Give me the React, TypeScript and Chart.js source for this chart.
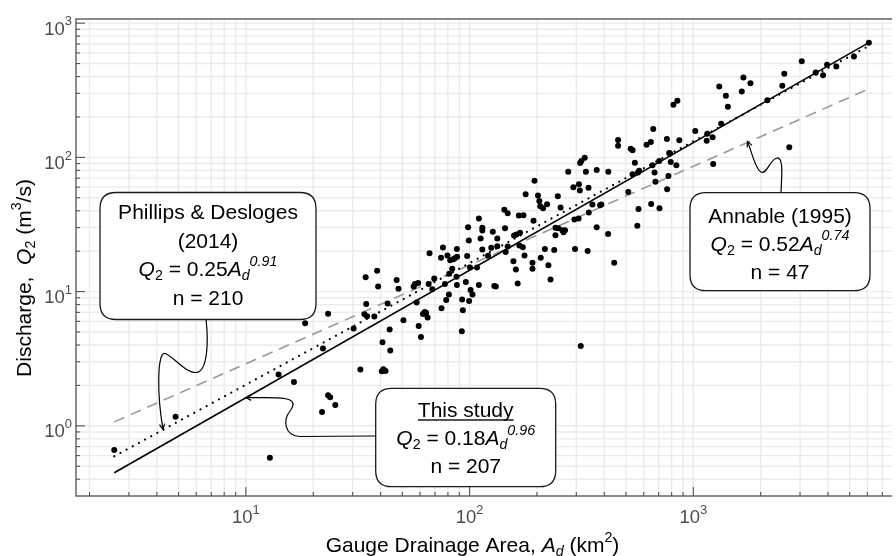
import React, { useEffect, useRef } from "react";
import { Chart, registerables } from "chart.js";

Chart.register(...registerables);

// ---- data (gauge drainage area km², 2-yr discharge m³/s) ----
const drainageArea: number[] = [
  2.58, 4.85, 12.8, 14.0, 16.4, 15.5, 18.6, 18.4, 23.3, 22.1,
  23.3, 23.8, 25.1, 21.9, 30.3, 32.5, 34.3, 38.6, 39.0, 34.5,
  33.9, 34.8, 37.5, 43.0, 43.9, 40.8, 44.2, 41.2, 40.5, 42.1,
  47.2, 48.1, 50.6, 56.2, 57.0, 58.9, 58.0, 59.2, 60.6, 61.9,
  63.0, 63.9, 64.9, 65.6, 66.2, 68.1, 69.5, 74.9, 74.5, 76.0,
  77.6, 78.6, 80.8, 79.6, 81.1, 81.9, 84.7, 85.9, 83.6, 87.7,
  87.9, 87.7, 87.4, 92.6, 93.3, 92.3, 96.2, 97.5, 98.5, 99.2,
  101, 103, 100.4, 99.5, 108, 110, 110, 112, 114, 114,
  114, 121, 125, 127, 129, 131, 133, 133, 144, 143,
  148, 145, 148, 157, 161, 158, 162, 168, 164, 166,
  174, 167, 173, 176, 178, 191, 191, 193, 195, 202,
  205, 207, 213, 222, 208, 217, 225, 230, 239, 242,
  242, 249, 248, 255, 260, 263, 267, 291, 308, 311,
  294, 307, 296, 314, 337, 276, 312, 316, 327, 331,
  340, 370, 417, 354, 383, 388, 341, 370, 416, 443,
  569, 648, 706, 562, 461, 461, 525, 535, 618, 646,
  662, 762, 866, 780, 788, 704, 657, 793, 840, 548,
  573, 566, 535, 671, 774, 677, 764, 512, 815, 849,
  1020, 1154, 1148, 1220, 1227, 1332, 1306, 1398, 1427, 1647,
  1675, 1800, 2143, 2499, 2551, 2685, 3054, 3524, 3802, 3963,
  4357, 5224, 6091,
];
const discharge: number[] = [
  0.66, 1.17, 0.578, 2.41, 2.12, 6.69, 8.0, 5.8, 6.85, 3.76,
  1.69, 1.63, 1.43, 1.27, 5.3, 2.63, 12.8, 14.3, 10.9, 8.07,
  6.77, 6.54, 6.51, 8.17, 5.21, 4.19, 3.64, 2.64, 2.55, 2.56,
  12.2, 10.5, 6.11, 10.9, 11.4, 11.6, 8.31, 5.54, 4.59, 6.8,
  7.04, 6.97, 6.4, 11.4, 19.3, 10.4, 12.5, 7.5, 17.9, 21.3,
  11.4, 8.65, 9.53, 18.6, 13.6, 17.1, 17.4, 17.7, 14.8, 20.8,
  18.2, 11.2, 12.9, 8.75, 7.25, 5.06, 11.8, 18.4, 30.2, 24.0,
  10.3, 9.53, 15.1, 8.5, 15.1, 11.2, 35.0, 24.9, 29.9, 28.5,
  20.6, 18.5, 21.2, 27.9, 11.0, 10.9, 24.9, 21.8, 29.7, 40.8,
  38.3, 19.7, 21.7, 16.8, 14.6, 26.2, 26.6, 27.4, 11.5, 36.9,
  37.1, 22.1, 21.4, 18.6, 53.1, 16.4, 14.8, 33.7, 67.1, 51.9,
  47.4, 43.2, 41.8, 44.7, 17.9, 20.8, 15.7, 12.3, 20.4, 26.3,
  29.9, 29.6, 51.3, 42.3, 28.7, 27.7, 28.7, 59.8, 63.0, 56.6,
  34.4, 35.0, 20.8, 3.94, 20.1, 78.3, 90.8, 94.0, 99.5, 78.3,
  59.5, 80.6, 78.3, 44.5, 44.0, 44.5, 38.8, 30.2, 26.9, 16.4,
  41.3, 45.0, 41.8, 30.9, 135, 122, 116, 113, 124, 130,
  163, 137, 134, 108, 107, 94.0, 87.2, 92.4, 87.2, 91.3,
  79.6, 77.3, 74.8, 77.3, 72.7, 65.9, 57.8, 55.3, 247, 264,
  157, 150, 133, 141, 89.3, 178, 337, 288, 238, 310,
  393, 357, 267, 341, 419, 119, 521, 429, 410, 489,
  475, 564, 716,
];

// fitted lines: endpoints over the data range (area) and discharge at those ends
const fitAreaRange: number[] = [2.58, 6091];
const thisStudyFit: number[] = [0.447, 716];
const phillipsFit: number[] = [0.593, 677];
const annableFit: number[] = [1.07, 324];

// axes
const xRange: number[] = [1.74, 7730];
const yRange: number[] = [0.306, 1074];
const xTickExponents: string[] = ["1", "2", "3"];
const yTickExponents: string[] = ["0", "1", "2", "3"];

const FONT = '"Liberation Sans", Arial, Helvetica, sans-serif';

type Seg = { t: string; it?: boolean; sub?: boolean; sup?: boolean };

function fontFor(seg: Seg, size: number, scale: number) {
  const s = seg.sub || seg.sup ? size * scale : size;
  return `${seg.it ? "italic " : ""}${s}px ${FONT}`;
}
function segsWidth(ctx: CanvasRenderingContext2D, segs: Seg[], size: number, scale: number) {
  let w = 0;
  for (const s of segs) {
    ctx.font = fontFor(s, size, scale);
    w += ctx.measureText(s.t).width;
  }
  return w;
}
function drawSegs(
  ctx: CanvasRenderingContext2D,
  segs: Seg[],
  x: number,
  y: number,
  size: number,
  align: "left" | "center" | "right",
  scale = 0.68,
  supShift = 0.48,
  subShift = 0.2
) {
  const w = segsWidth(ctx, segs, size, scale);
  let cx = align === "center" ? x - w / 2 : align === "right" ? x - w : x;
  const start = cx;
  ctx.textAlign = "left";
  ctx.textBaseline = "alphabetic";
  for (const s of segs) {
    ctx.font = fontFor(s, size, scale);
    const dy = s.sup ? -size * supShift : s.sub ? size * subShift : 0;
    ctx.fillText(s.t, cx, y + dy);
    cx += ctx.measureText(s.t).width;
  }
  return { left: start, right: cx };
}

function gridValues(min: number, max: number) {
  const out: { v: number; major: boolean }[] = [];
  const e0 = Math.floor(Math.log10(min));
  const e1 = Math.ceil(Math.log10(max));
  for (let e = e0; e <= e1; e++) {
    for (let m = 1; m <= 9; m++) {
      const v = m * Math.pow(10, e);
      if (v >= min && v <= max) out.push({ v, major: m === 1 });
    }
  }
  return out;
}

type Callout = {
  box: number[]; // left, top, right, bottom (px)
  lines: Seg[][];
  baselines: number[];
  underlineFirst?: boolean;
  start: number[];
  segs: number[][][]; // cubic segments [c1, c2, end]; last end replaced by tip
  tip: { x: number; y: number }; // data coordinates
};

const callouts: Callout[] = [
  {
    box: [100, 192.5, 316, 319.5],
    lines: [
      [{ t: "Phillips & Desloges" }],
      [{ t: "(2014)" }],
      [
        { t: "Q", it: true },
        { t: "2", sub: true },
        { t: " = 0.25" },
        { t: "A", it: true },
        { t: "d", it: true, sub: true },
        { t: "0.91", it: true, sup: true },
      ],
      [{ t: "n = 210" }],
    ],
    baselines: [219, 247.5, 276, 304.5],
    start: [206, 319.5],
    segs: [
      [[208.5, 340], [208, 372], [196, 372.5]],
      [[185, 373], [172, 355], [165, 353.5]],
      [[157, 352], [157, 395], [0, 0]],
    ],
    tip: { x: 4.26, y: 0.94 },
  },
  {
    box: [690, 192.7, 870, 290.7],
    lines: [
      [{ t: "Annable (1995)" }],
      [
        { t: "Q", it: true },
        { t: "2", sub: true },
        { t: " = 0.52" },
        { t: "A", it: true },
        { t: "d", it: true, sub: true },
        { t: "0.74", it: true, sup: true },
      ],
      [{ t: "n = 47" }],
    ],
    baselines: [222.5, 250.5, 279],
    start: [781, 192.7],
    segs: [
      [[781.5, 178], [784, 157], [777, 158]],
      [[770, 159], [767, 175], [761, 172]],
      [[755, 169], [752, 152], [0, 0]],
    ],
    tip: { x: 1746, y: 131.5 },
  },
  {
    box: [375.7, 388.3, 555.7, 486.7],
    lines: [
      [{ t: "This study" }],
      [
        { t: "Q", it: true },
        { t: "2", sub: true },
        { t: " = 0.18" },
        { t: "A", it: true },
        { t: "d", it: true, sub: true },
        { t: "0.96", it: true, sup: true },
      ],
      [{ t: "n = 207" }],
    ],
    baselines: [417, 445, 473],
    underlineFirst: true,
    start: [375.7, 436],
    segs: [
      [[340, 436], [320, 436.5], [300, 436.5]],
      [[284, 436], [283, 420], [290, 411]],
      [[297, 402], [292, 398], [276, 397.8]],
      [[265, 397.5], [255, 398], [0, 0]],
    ],
    tip: { x: 10, y: 1.626 },
  },
];

function roundRectPath(ctx: CanvasRenderingContext2D, l: number, t: number, r: number, b: number, rad: number) {
  ctx.beginPath();
  ctx.moveTo(l + rad, t);
  ctx.lineTo(r - rad, t);
  ctx.quadraticCurveTo(r, t, r, t + rad);
  ctx.lineTo(r, b - rad);
  ctx.quadraticCurveTo(r, b, r - rad, b);
  ctx.lineTo(l + rad, b);
  ctx.quadraticCurveTo(l, b, l, b - rad);
  ctx.lineTo(l, t + rad);
  ctx.quadraticCurveTo(l, t, l + rad, t);
  ctx.closePath();
}

const decorPlugin = {
  id: "decor",
  beforeDatasetsDraw(chart: any) {
    const { ctx, chartArea: a, scales } = chart;
    const x = scales.x;
    const y = scales.y;
    ctx.save();
    ctx.strokeStyle = "#ebebeb";
    ctx.lineWidth = 1.4;
    for (const g of gridValues(xRange[0], xRange[1])) {
      const px = x.getPixelForValue(g.v);
      ctx.beginPath();
      ctx.moveTo(px, a.top);
      ctx.lineTo(px, a.bottom);
      ctx.stroke();
    }
    for (const g of gridValues(yRange[0], yRange[1])) {
      const py = y.getPixelForValue(g.v);
      ctx.beginPath();
      ctx.moveTo(a.left, py);
      ctx.lineTo(a.right, py);
      ctx.stroke();
    }
    ctx.restore();
  },
  afterDraw(chart: any) {
    const { ctx, chartArea: a, scales } = chart;
    const x = scales.x;
    const y = scales.y;
    ctx.save();

    // axis borders (left, bottom, top)
    ctx.strokeStyle = "#666";
    ctx.lineWidth = 1.5;
    ctx.beginPath();
    ctx.moveTo(a.right, a.top);
    ctx.lineTo(a.left, a.top);
    ctx.lineTo(a.left, a.bottom);
    ctx.lineTo(a.right, a.bottom);
    ctx.stroke();

    // tick marks (inside)
    ctx.strokeStyle = "#555";
    ctx.lineWidth = 1.1;
    for (const g of gridValues(xRange[0], xRange[1])) {
      const px = x.getPixelForValue(g.v);
      ctx.beginPath();
      ctx.moveTo(px, a.bottom);
      ctx.lineTo(px, a.bottom - (g.major ? 9 : 4));
      ctx.stroke();
    }
    for (const g of gridValues(yRange[0], yRange[1])) {
      const py = y.getPixelForValue(g.v);
      ctx.beginPath();
      ctx.moveTo(a.left, py);
      ctx.lineTo(a.left + (g.major ? 9 : 4), py);
      ctx.stroke();
    }

    // tick labels
    ctx.fillStyle = "#4d4d4d";
    for (const e of xTickExponents) {
      const px = x.getPixelForValue(Math.pow(10, Number(e)));
      drawSegs(ctx, [{ t: "10" }, { t: e, sup: true }], px, a.bottom + 27, 18.5, "center", 0.7, 0.5);
    }
    for (const e of yTickExponents) {
      const py = y.getPixelForValue(Math.pow(10, Number(e)));
      drawSegs(ctx, [{ t: "10" }, { t: e, sup: true }], a.left - 4, py + 11.5, 18.5, "right", 0.7, 0.5);
    }

    // axis titles
    ctx.fillStyle = "#000";
    drawSegs(
      ctx,
      [
        { t: "Gauge Drainage Area, " },
        { t: "A", it: true },
        { t: "d", it: true, sub: true },
        { t: " (km" },
        { t: "2", sup: true },
        { t: ")" },
      ],
      472.5,
      552,
      21,
      "center"
    );
    ctx.save();
    ctx.translate(31, 278);
    ctx.rotate(-Math.PI / 2);
    drawSegs(
      ctx,
      [
        { t: "Discharge,  " },
        { t: "Q", it: true },
        { t: "2", sub: true },
        { t: " (m" },
        { t: "3", sup: true },
        { t: "/s)" },
      ],
      0,
      0,
      21,
      "center"
    );
    ctx.restore();

    // callouts
    for (const c of callouts) {
      const tx = x.getPixelForValue(c.tip.x);
      const ty = y.getPixelForValue(c.tip.y);
      ctx.strokeStyle = "#000";
      ctx.lineWidth = 1.2;
      ctx.beginPath();
      ctx.moveTo(c.start[0], c.start[1]);
      c.segs.forEach((s, i) => {
        const end = i === c.segs.length - 1 ? [tx, ty] : s[2];
        ctx.bezierCurveTo(s[0][0], s[0][1], s[1][0], s[1][1], end[0], end[1]);
      });
      ctx.stroke();
      // arrow head
      const last = c.segs[c.segs.length - 1][1];
      const ang = Math.atan2(ty - last[1], tx - last[0]);
      const hl = 6;
      ctx.beginPath();
      ctx.moveTo(tx - hl * Math.cos(ang - 0.45), ty - hl * Math.sin(ang - 0.45));
      ctx.lineTo(tx, ty);
      ctx.lineTo(tx - hl * Math.cos(ang + 0.45), ty - hl * Math.sin(ang + 0.45));
      ctx.stroke();

      // box
      const [l, t, r, b] = c.box;
      roundRectPath(ctx, l, t, r, b, 16);
      ctx.fillStyle = "#fff";
      ctx.fill();
      ctx.strokeStyle = "#1a1a1a";
      ctx.lineWidth = 1.3;
      ctx.stroke();

      ctx.fillStyle = "#000";
      const cx = (l + r) / 2;
      c.lines.forEach((ln, i) => {
        const res = drawSegs(ctx, ln, cx, c.baselines[i], 21, "center");
        if (i === 0 && c.underlineFirst) {
          ctx.beginPath();
          ctx.lineWidth = 1.3;
          ctx.moveTo(res.left, c.baselines[i] + 3);
          ctx.lineTo(res.right, c.baselines[i] + 3);
          ctx.stroke();
        }
      });
    }
    ctx.restore();
  },
};

export default function App() {
  const canvasRef = useRef<HTMLCanvasElement | null>(null);

  useEffect(() => {
    document.body.style.margin = "0";
    const canvas = canvasRef.current;
    if (!canvas) return;

    const points = drainageArea.map((a, i) => ({ x: a, y: discharge[i] }));
    const line = (q: number[]) => [
      { x: fitAreaRange[0], y: q[0] },
      { x: fitAreaRange[1], y: q[1] },
    ];

    const chart = new Chart(canvas, {
      type: "scatter",
      data: {
        datasets: [
          {
            label: "Gauges",
            data: points,
            pointRadius: 3,
            pointBorderWidth: 0,
            pointBackgroundColor: "#000",
            backgroundColor: "#000",
            showLine: false,
          },
          {
            label: "This study",
            data: line(thisStudyFit),
            showLine: true,
            pointRadius: 0,
            borderColor: "#000",
            borderWidth: 1.6,
            fill: false,
          },
          {
            label: "Phillips & Desloges (2014)",
            data: line(phillipsFit),
            showLine: true,
            pointRadius: 0,
            borderColor: "#000",
            borderWidth: 2.2,
            borderDash: [0.01, 7],
            borderCapStyle: "round",
            fill: false,
          },
          {
            label: "Annable (1995)",
            data: line(annableFit),
            showLine: true,
            pointRadius: 0,
            borderColor: "#999",
            borderWidth: 1.6,
            borderDash: [11, 7],
            fill: false,
          },
        ],
      },
      options: {
        animation: false,
        responsive: false,
        maintainAspectRatio: false,
        devicePixelRatio: 1,
        layout: { padding: { left: 76, top: 19, right: 0, bottom: 60 } },
        plugins: { legend: { display: false }, tooltip: { enabled: false } },
        scales: {
          x: { type: "logarithmic", min: xRange[0], max: xRange[1], display: false },
          y: { type: "logarithmic", min: yRange[0], max: yRange[1], display: false },
        },
      },
      plugins: [decorPlugin],
    } as any);

    return () => chart.destroy();
  }, []);

  return (
    <div style={{ width: 896, height: 556, position: "relative", background: "#fff" }}>
      <canvas ref={canvasRef} width={896} height={556} style={{ display: "block" }} />
    </div>
  );
}
